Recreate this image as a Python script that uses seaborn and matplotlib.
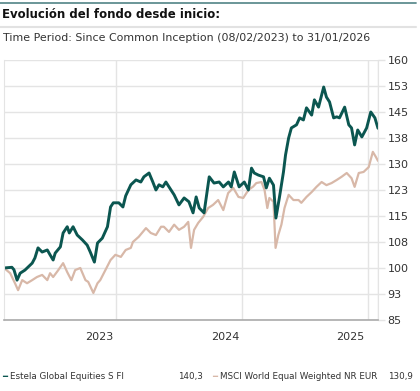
import pandas as pd
import matplotlib.pyplot as plt
import matplotlib.transforms as mtransforms
import seaborn as sns

sns.set_style("white")
plt.rcParams["font.family"] = ["DejaVu Sans"]

# datos (base 100)
fondo_fechas = [
    "2023-02-08", "2023-03-03", "2023-03-09", "2023-03-18", "2023-03-27", "2023-04-10",
    "2023-05-01", "2023-05-09", "2023-05-18", "2023-05-30", "2023-06-14", "2023-06-22",
    "2023-07-01", "2023-07-07", "2023-07-22", "2023-07-30", "2023-08-11", "2023-08-17",
    "2023-08-28", "2023-09-09", "2023-09-24", "2023-10-08", "2023-10-17", "2023-10-29",
    "2023-11-07", "2023-11-21", "2023-12-06", "2023-12-15", "2023-12-23", "2024-01-08",
    "2024-01-20", "2024-01-28", "2024-02-12", "2024-02-27", "2024-03-12", "2024-03-21",
    "2024-04-05", "2024-04-16", "2024-04-25", "2024-05-04", "2024-05-15", "2024-05-24",
    "2024-06-02", "2024-06-17", "2024-07-01", "2024-07-16", "2024-07-30", "2024-08-11",
    "2024-08-20", "2024-08-29", "2024-09-12", "2024-09-27", "2024-10-11", "2024-10-26",
    "2024-11-07", "2024-11-22", "2024-11-30", "2024-12-09", "2024-12-23", "2025-01-07",
    "2025-01-19", "2025-01-28", "2025-02-05", "2025-02-17", "2025-03-04", "2025-03-12",
    "2025-03-21", "2025-04-02", "2025-04-09", "2025-04-19", "2025-05-01", "2025-05-07",
    "2025-05-16", "2025-05-24", "2025-06-08", "2025-06-17", "2025-06-28", "2025-07-07",
    "2025-07-22", "2025-07-30", "2025-08-11", "2025-08-26", "2025-09-03", "2025-09-12",
    "2025-09-24", "2025-10-03", "2025-10-11", "2025-10-26", "2025-11-07", "2025-11-15",
    "2025-11-24", "2025-12-03", "2025-12-15", "2025-12-29", "2026-01-10", "2026-01-22",
    "2026-01-31",
]
fondo_valores = [
    100.0, 100.2, 99.5, 96.5, 98.5, 99.4,
    101.4, 102.9, 105.8, 104.6, 105.2, 103.8,
    102.3, 104.3, 106.1, 110.1, 111.9, 110.1,
    111.9, 109.5, 108.1, 106.6, 104.6, 101.7,
    107.2, 108.6, 111.9, 117.6, 118.8, 118.8,
    117.6, 120.8, 124.0, 125.4, 124.8, 126.3,
    127.4, 124.8, 122.5, 124.0, 123.4, 124.8,
    123.4, 121.1, 118.2, 120.2, 119.1, 115.9,
    120.5, 117.3, 115.9, 126.3, 124.5, 124.8,
    123.4, 124.8, 123.4, 127.7, 123.4, 124.8,
    122.5, 128.8, 127.4, 126.8, 126.3, 123.1,
    125.9, 123.9, 114.4, 120.2, 127.7, 132.6,
    137.5, 140.4, 141.3, 143.3, 142.7, 146.2,
    144.1, 148.5, 146.4, 152.2, 149.3, 147.9,
    143.3, 143.6, 143.3, 146.4, 141.3, 140.4,
    135.5, 139.8, 137.8, 140.4, 145.0, 143.3,
    140.3,
]

indice_fechas = [
    "2023-02-08", "2023-02-26", "2023-03-12", "2023-03-21", "2023-04-02", "2023-04-16",
    "2023-05-01", "2023-05-15", "2023-05-30", "2023-06-14", "2023-06-22", "2023-07-01",
    "2023-07-16", "2023-07-30", "2023-08-11", "2023-08-23", "2023-09-03", "2023-09-18",
    "2023-10-03", "2023-10-11", "2023-10-26", "2023-11-07", "2023-11-15", "2023-11-30",
    "2023-12-15", "2023-12-29", "2024-01-14", "2024-01-28", "2024-02-12", "2024-02-18",
    "2024-03-06", "2024-03-27", "2024-04-10", "2024-04-25", "2024-05-10", "2024-05-18",
    "2024-06-02", "2024-06-17", "2024-07-01", "2024-07-16", "2024-07-28", "2024-08-05",
    "2024-08-14", "2024-08-26", "2024-09-09", "2024-09-24", "2024-10-08", "2024-10-23",
    "2024-11-07", "2024-11-21", "2024-12-06", "2024-12-21", "2025-01-04", "2025-01-19",
    "2025-02-02", "2025-02-11", "2025-02-26", "2025-03-07", "2025-03-15", "2025-03-21",
    "2025-04-02", "2025-04-08", "2025-04-16", "2025-04-25", "2025-05-04", "2025-05-16",
    "2025-05-30", "2025-06-14", "2025-06-22", "2025-07-07", "2025-07-22", "2025-08-05",
    "2025-08-20", "2025-09-03", "2025-09-18", "2025-10-03", "2025-10-17", "2025-11-01",
    "2025-11-15", "2025-11-24", "2025-12-06", "2025-12-20", "2026-01-04", "2026-01-16",
    "2026-01-25", "2026-01-31",
]
indice_valores = [
    100.0, 98.5, 95.6, 93.6, 96.5, 95.6,
    96.5, 97.4, 98.0, 96.5, 98.5, 97.4,
    99.4, 101.4, 98.8, 96.5, 99.4, 100.0,
    96.5, 96.0, 92.8, 95.6, 96.5, 99.4,
    102.3, 103.8, 103.2, 105.2, 105.8, 107.5,
    109.0, 111.5, 110.1, 109.5, 111.9, 111.9,
    110.4, 112.5, 111.0, 111.9, 113.3, 105.8,
    111.0, 113.0, 114.7, 117.3, 118.2, 119.6,
    116.7, 121.6, 123.1, 120.5, 120.2, 122.5,
    123.5, 124.5, 124.8, 122.5, 117.3, 120.2,
    119.1, 105.8, 109.5, 112.5, 117.3, 121.1,
    119.6, 119.6, 118.8, 120.5, 121.9, 123.4,
    124.8, 123.9, 124.5, 125.4, 126.3, 127.4,
    125.9, 123.4, 127.4, 127.7, 129.1, 133.5,
    132.0, 130.9,
]

nombre_fondo = "Estela Global Equities S FI"
nombre_indice = "MSCI World Equal Weighted NR EUR"
ultimo_fondo = "140,3"
ultimo_indice = "130,9"

y_ticks = [85, 92.5, 100, 107.5, 115, 122.5, 130, 137.5, 145, 152.5, 160]
y_labels = ["85", "93", "100", "108", "115", "123", "130", "138", "145", "153", "160"]
x_ticks = ["2024-01-01", "2025-01-01", "2026-01-01"]
x_labels = ["2023", "2024", "2025"]

color_fondo = "#0b5650"
color_indice = "#d8b8a8"
gris = "#e4e4e4"

df_fondo = pd.DataFrame({"fecha": pd.to_datetime(fondo_fechas), "valor": fondo_valores})
df_indice = pd.DataFrame({"fecha": pd.to_datetime(indice_fechas), "valor": indice_valores})

fig = plt.figure(figsize=(4.2, 3.91), dpi=100)
ax = fig.add_axes([0.0095, 0.1816, 0.8905, 0.665])

sns.lineplot(data=df_indice, x="fecha", y="valor", color=color_indice, linewidth=1.6, ax=ax)
sns.lineplot(data=df_fondo, x="fecha", y="valor", color=color_fondo, linewidth=2.1, ax=ax)

ax.set_xlim(pd.Timestamp("2023-02-08"), pd.Timestamp("2026-01-31"))
ax.set_ylim(85, 160)
ax.set_xlabel("")
ax.set_ylabel("")

# eje y a la derecha
ax.yaxis.tick_right()
ax.set_yticks(y_ticks)
ax.set_yticklabels(y_labels, fontsize=8, color="#333333")
ax.tick_params(axis="y", length=5, color=gris, pad=2, width=1)

# eje x: años (etiqueta a la izquierda de la marca)
xt = pd.to_datetime(x_ticks + ["2026-01-31"])
ax.set_xticks(xt)
ax.set_xticklabels(x_labels + [""], fontsize=8, color="#333333", ha="right")
ax.tick_params(axis="x", length=5, color="#aaaaaa", pad=4, width=1)
desplaza = mtransforms.ScaledTranslation(-3 / 100, 0, fig.dpi_scale_trans)
for lbl in ax.get_xticklabels():
    lbl.set_transform(lbl.get_transform() + desplaza)

ax.grid(True, color=gris, linewidth=1)
ax.set_axisbelow(True)
for s in ["left", "right", "top"]:
    ax.spines[s].set_color(gris)
ax.spines["top"].set_visible(False)
ax.spines["bottom"].set_color("#aaaaaa")
ax.spines["bottom"].set_linewidth(1.2)

# cabecera
fig.add_artist(plt.Line2D([0, 0.99], [0.993, 0.993], color="#5f8d90", linewidth=1.3))
fig.text(0.005, 0.962, "Evolución del fondo desde inicio:", fontsize=8.5, fontweight="bold",
         color="#111111", va="center")
fig.add_artist(plt.Line2D([0, 0.99], [0.931, 0.931], color="#e2e2e2", linewidth=1.5))
fig.text(0.007, 0.903, "Time Period: Since Common Inception (08/02/2023) to 31/01/2026",
         fontsize=7.9, color="#333333", va="center")

# leyenda
ly = 0.036
fs = 6.3
fig.text(0.005, ly, "━", fontsize=6, color=color_fondo, va="center")
fig.text(0.024, ly, nombre_fondo, fontsize=fs, color="#333333", va="center")
fig.text(0.483, ly, ultimo_fondo, fontsize=fs, color="#333333", va="center", ha="right")
fig.text(0.505, ly, "━", fontsize=6, color=color_indice, va="center")
fig.text(0.524, ly, nombre_indice, fontsize=fs, color="#333333", va="center")
fig.text(0.983, ly, ultimo_indice, fontsize=fs, color="#333333", va="center", ha="right")

fig.savefig("out.png", dpi=100)
